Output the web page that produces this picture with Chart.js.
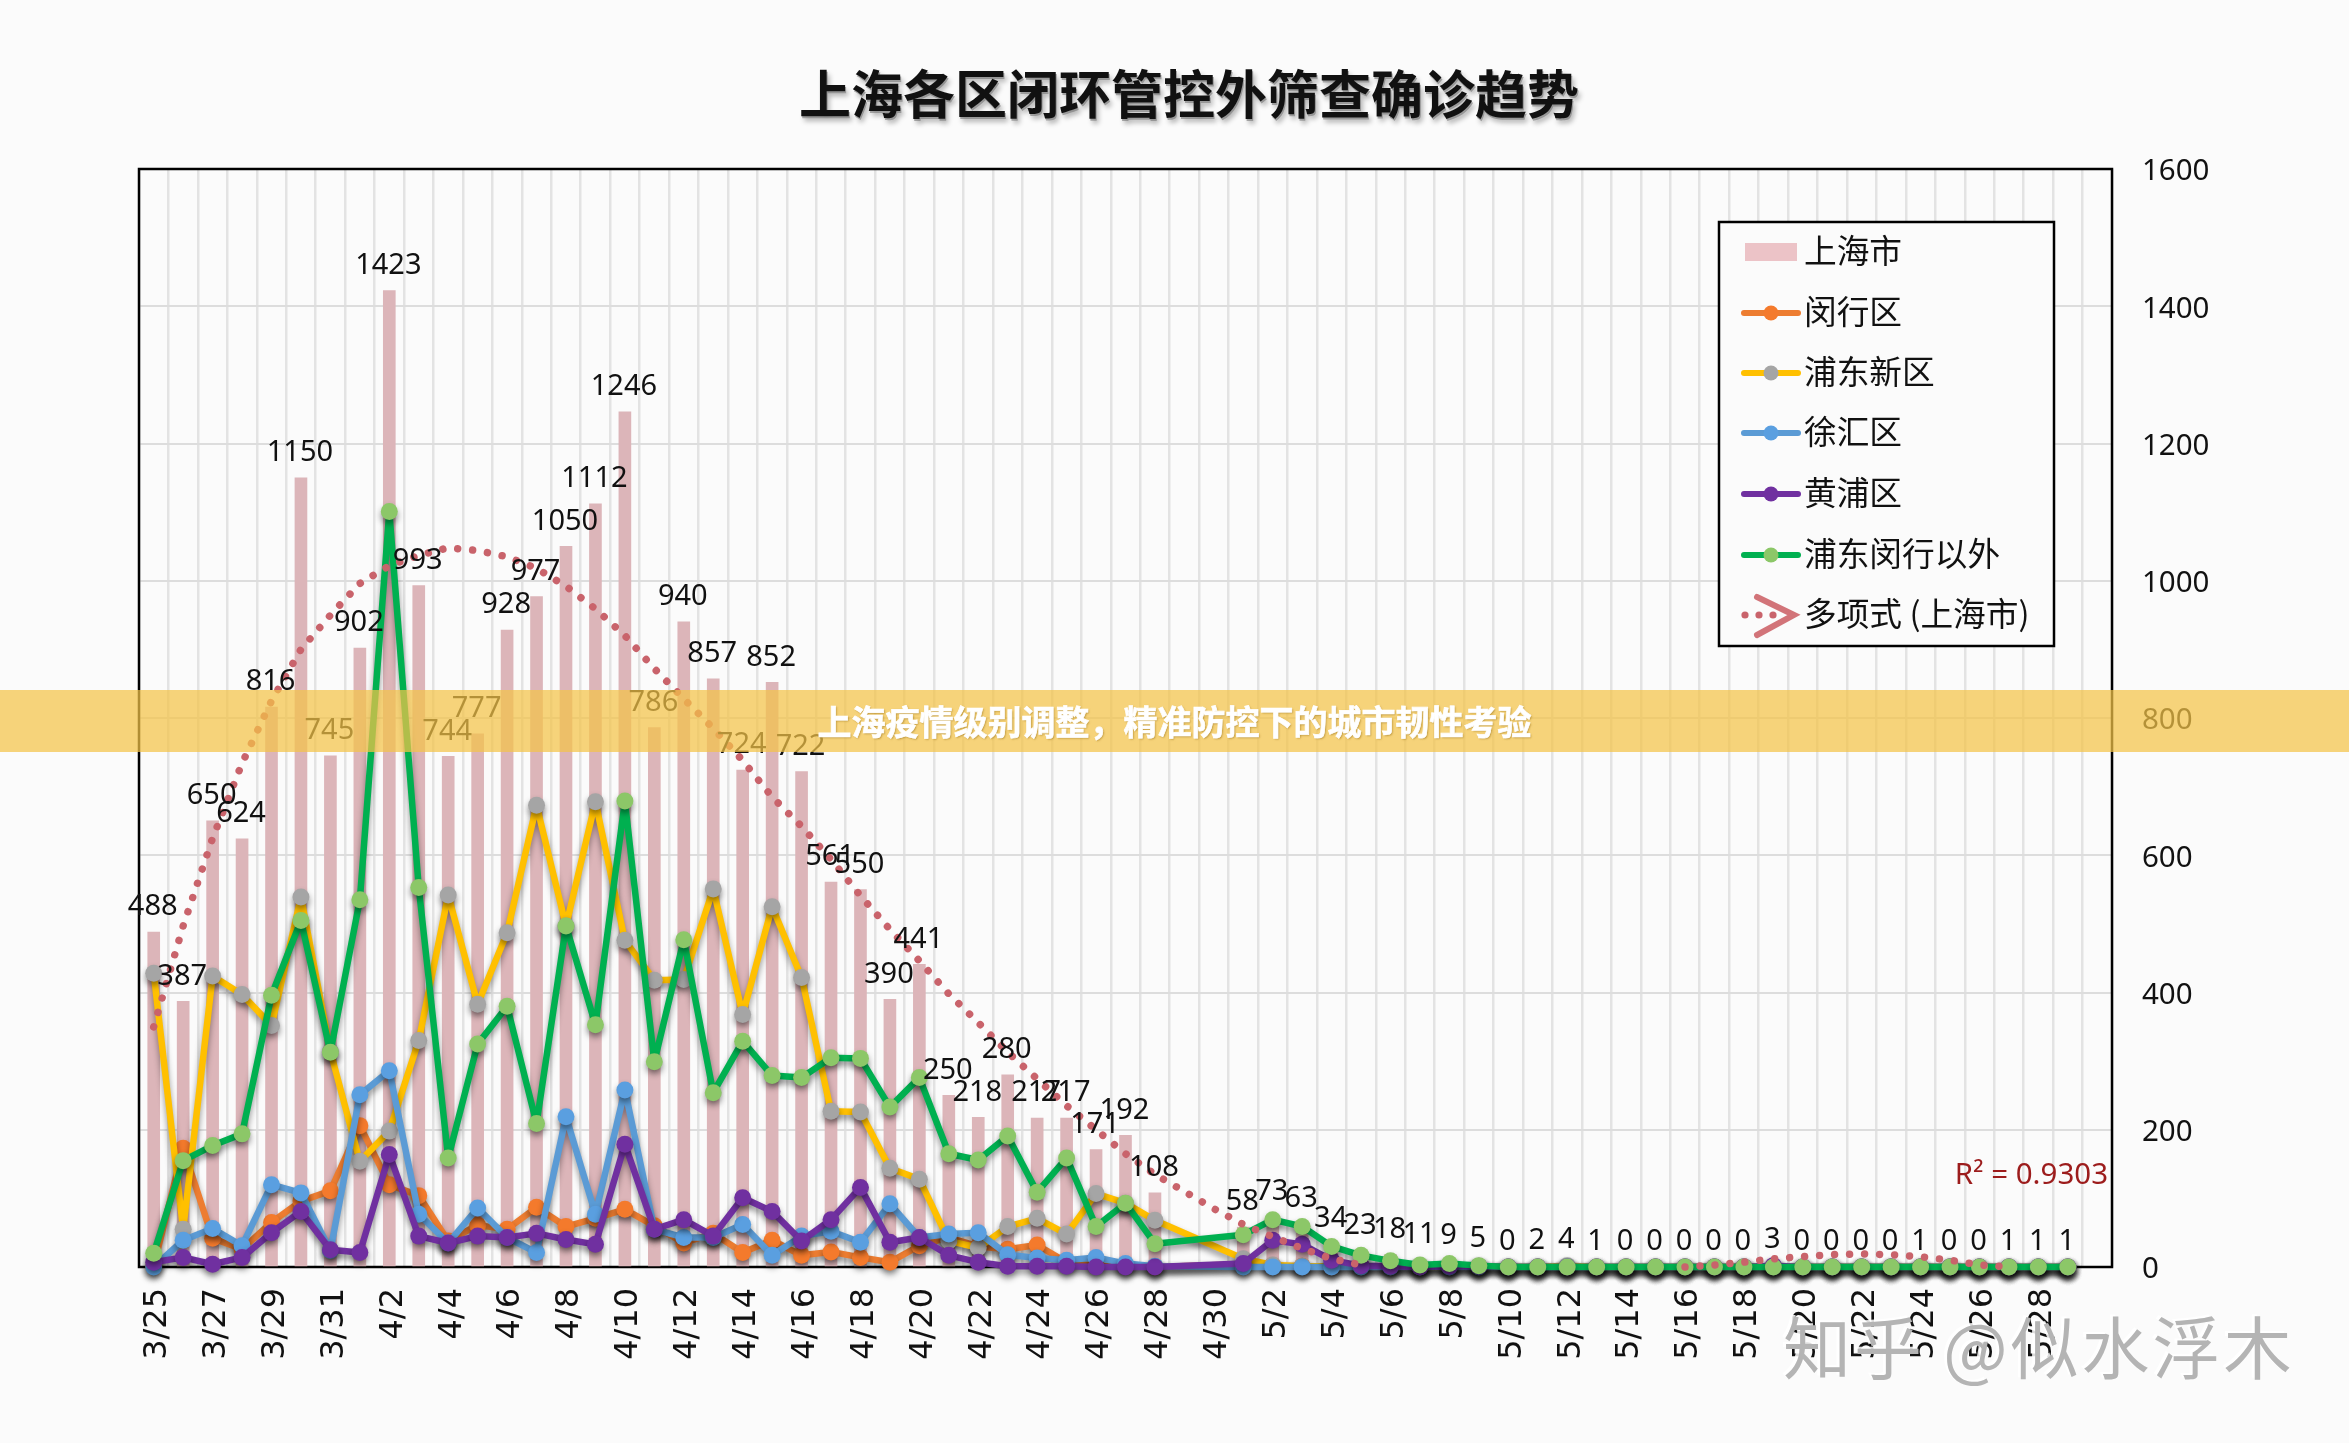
<!DOCTYPE html>
<html><head><meta charset="utf-8">
<script src="https://cdn.jsdelivr.net/npm/chart.js@4"></script>
<style>
html,body{margin:0;padding:0;background:#fbfbfb;width:2349px;height:1443px;overflow:hidden}
canvas{position:absolute;left:0;top:0}
#band{position:absolute;left:0;top:690px;width:2349px;height:62px;background:rgba(244,196,72,.72);color:#fff;font:bold 34px/62px "Noto Sans CJK SC";text-align:center;-webkit-text-stroke:.7px #fff;text-shadow:1px 1px 2px rgba(150,110,20,.6)}
#mark{position:absolute;left:1783px;top:1300px;color:#b4b4b4;font:68px/90px "Noto Sans CJK SC";letter-spacing:3px;white-space:nowrap;text-shadow:-3px -2px 0 rgba(255,255,255,.85)}
</style></head><body>
<canvas id="c" width="2349" height="1443"></canvas>
<div id="band">上海疫情级别调整，精准防控下的城市韧性考验</div>
<div id="mark">知乎 @似水浮木</div>
<script>
const titleText='上海各区闭环管控外筛查确诊趋势';
const categories=['3/25','3/26','3/27','3/28','3/29','3/30','3/31','4/1','4/2','4/3','4/4','4/5','4/6','4/7','4/8','4/9','4/10','4/11','4/12','4/13','4/14','4/15','4/16','4/17','4/18','4/19','4/20','4/21','4/22','4/23','4/24','4/25','4/26','4/27','4/28','4/29','4/30','5/1','5/2','5/3','5/4','5/5','5/6','5/7','5/8','5/9','5/10','5/11','5/12','5/13','5/14','5/15','5/16','5/17','5/18','5/19','5/20','5/21','5/22','5/23','5/24','5/25','5/26','5/27','5/28','5/29',''];
const shanghai=[488,387,650,624,816,1150,745,902,1423,993,744,777,928,977,1050,1112,1246,786,940,857,724,852,722,561,550,390,441,250,218,280,217,217,171,192,108,null,null,58,73,63,34,23,18,11,9,5,0,2,4,1,0,0,0,0,0,3,0,0,0,0,1,0,0,1,1,1,null];
const minhang=[2,173,42,26,65,96,111,206,120,104,38,61,55,87,59,71,84,60,35,49,21,39,17,22,14,7,31,43,30,26,32,7,2,1,0,null,null,4,2,1,0,1,0,0,0,0,0,0,0,0,0,0,0,0,0,0,0,0,0,0,0,0,0,0,0,0,null];
const pudong=[428,55,424,397,352,539,314,154,198,330,542,383,487,673,497,678,476,418,419,551,368,525,422,227,226,144,128,38,28,59,71,48,107,93,68,null,null,12,3,1,1,1,1,0,0,1,0,0,2,0,0,0,0,0,0,1,0,0,0,0,0,0,0,0,0,0,null];
const xuhui=[0,39,56,31,120,108,24,251,286,77,35,86,43,21,219,77,258,55,43,43,62,17,45,52,36,92,43,48,50,18,13,10,14,5,1,null,null,0,0,0,0,0,0,0,0,0,0,0,0,0,0,0,0,0,0,0,0,0,0,0,0,0,0,0,0,0,null];
const huangpu=[7,14,4,14,50,81,25,21,164,45,35,45,43,49,40,33,179,55,69,45,101,81,38,69,116,36,43,17,7,1,1,1,0,0,0,null,null,5,39,33,10,2,1,0,1,1,0,0,0,0,0,0,0,0,0,2,0,0,0,0,0,0,0,0,0,0,null];
const others=[20,155,177,194,396,505,313,535,1101,553,159,325,380,209,497,353,679,299,477,254,329,279,276,305,304,233,276,165,156,191,109,159,59,93,34,null,null,47,69,59,30,17,9,3,5,2,0,0,0,0,0,0,0,0,0,0,0,0,0,0,0,0,0,0,0,0,null];
const trend=[350,497,625,734,825,900,950,996,1022,1037,1048,1044,1035,1018,992,959,920,872,828,785,738,685,642,594,541,492,446,398,356,313,274,235,200,165,135,110,85,62,44,27,12,3,null,null,null,null,null,null,null,null,null,null,0,3,7,12,15,18,19,18,15,10,3,0,null,null,null];
const yTicks=[0,200,400,600,800,1000,1200,1400,1600];
const r2Text='R² = 0.9303';

const black='#000';
const lineSet=(label,data,line,point,order)=>({type:'line',label,data,borderColor:line,backgroundColor:point,pointBackgroundColor:point,pointBorderColor:point,pointBorderWidth:0,borderWidth:6.5,pointRadius:8.5,pointHoverRadius:8.5,tension:0,spanGaps:true,clip:false,order,borderJoinStyle:'round',borderCapStyle:'round'});

const decor={
 id:'decor',
 beforeDraw(ch){
  const c=ch.ctx;c.save();
  c.font='bold 52px "Noto Sans CJK SC"';c.textAlign='center';c.textBaseline='middle';
  c.fillStyle='rgba(110,110,110,.55)';c.shadowColor='rgba(0,0,0,.5)';c.shadowBlur=5;c.shadowOffsetX=2;c.shadowOffsetY=3;
  c.fillText(titleText,ch.titleBlock.left+ch.titleBlock.width/2+1,ch.titleBlock.top+63+31+2);
  c.restore();
 },
 beforeDatasetsDraw(ch){
  const a=ch.chartArea,c=ch.ctx;
  c.save();c.strokeStyle=black;c.lineWidth=2.5;c.strokeRect(a.left,a.top,a.right-a.left,a.bottom-a.top);c.restore();
 },
 beforeDatasetDraw(ch,args){
  const c=ch.ctx;c.save();
  const d=ch.data.datasets[args.index];
  if(d.type==='line'&&!d.isTrend){c.shadowColor='rgba(0,0,0,.42)';c.shadowBlur=6;c.shadowOffsetY=4;}
 },
 afterDatasetDraw(ch){ch.ctx.restore();},
 afterDatasetsDraw(ch){
  const c=ch.ctx,a=ch.chartArea;
  c.save();
  const m=ch.getDatasetMeta(0);
  c.font='29px "Noto Sans"';c.fillStyle='#111';c.textAlign='center';c.textBaseline='middle';
  m.data.forEach((el,i)=>{const v=shanghai[i];if(v==null)return;c.fillText(String(v),el.x-1,el.y-25);});
  c.font='29.5px "Noto Sans"';c.fillStyle='#9c1c1c';c.textAlign='right';
  c.fillText(r2Text,a.right-4,ch.scales.y.getPixelForValue(133));
  const bx=1719,by=222,bw=335,bh=424;
  c.fillStyle='#fbfbfb';c.fillRect(bx,by,bw,bh);
  c.strokeStyle=black;c.lineWidth=2.5;c.strokeRect(bx,by,bw,bh);
  const rows=[252,313,373,433,494,555,615];
  ch.data.datasets.forEach((d,r)=>{
   const y=rows[r];
   c.lineCap='round';
   if(r===0){c.fillStyle='#ecc3c7';c.fillRect(1745,y-9,52,18);}
   else if(d.isTrend){
    c.fillStyle=d.borderColor;
    [1745,1759,1773].forEach(x=>{c.beginPath();c.arc(x,y,3.6,0,7);c.fill();});
    c.strokeStyle='#d27479';c.lineWidth=6;c.beginPath();c.moveTo(1757,y-18);c.lineTo(1794,y);c.lineTo(1757,y+20);c.stroke();
   }else{
    c.strokeStyle=d.borderColor;c.lineWidth=6;c.beginPath();c.moveTo(1744,y);c.lineTo(1798,y);c.stroke();
    c.fillStyle=d.pointBackgroundColor;c.beginPath();c.arc(1771,y,7.5,0,7);c.fill();
   }
   c.fillStyle='#111';c.textAlign='left';c.textBaseline='middle';c.font='32.7px "Noto Sans CJK SC"';
   c.fillText(d.label,1804,y-1.5);
  });
  c.restore();
 }
};

new Chart(document.getElementById('c'),{
 type:'bar',
 data:{labels:categories,datasets:[
  {type:'bar',label:'上海市',data:shanghai,backgroundColor:'#dcb5b9',barThickness:12,order:7},
  lineSet('闵行区',minhang,'#ed7d31','#f47a2c',6),
  lineSet('浦东新区',pudong,'#ffc000','#a5a5a5',5),
  lineSet('徐汇区',xuhui,'#5b9bd5','#5a9fe0',4),
  lineSet('黄浦区',huangpu,'#7030a0','#7030a0',3),
  lineSet('浦东闵行以外',others,'#00b050','#8cc768',2),
  {type:'line',isTrend:true,label:'多项式 (上海市)',data:trend,borderColor:'#c9636b',borderWidth:7.5,borderDash:[0.01,15],borderCapStyle:'round',pointRadius:0,tension:0,spanGaps:false,clip:false,order:1}
 ]},
 options:{
  responsive:false,animation:false,devicePixelRatio:1,
  layout:{autoPadding:false,padding:{left:139,right:110,top:0,bottom:0}},
  plugins:{
   legend:{display:false},tooltip:{enabled:false},
   title:{display:true,text:titleText,color:'#111',font:{family:'"Noto Sans CJK SC"',size:52,weight:'bold',lineHeight:1.2},padding:{top:63,bottom:43.6}}
  },
  scales:{
   x:{
    offset:true,
    grid:{color:'#e3e3e3',lineWidth:2.5,offset:true,drawTicks:false},
    border:{display:false},
    afterFit(s){s.height=176;},
    ticks:{autoSkip:false,minRotation:90,maxRotation:90,padding:21,labelOffset:4,color:'#111',font:{family:'"DejaVu Sans"',size:32},
     callback(v,i){return i%2===0?this.getLabelForValue(v):'';}}
   },
   y:{
    position:'right',min:0,max:1600,
    afterBuildTicks(s){s.ticks=yTicks.map(v=>({value:v}));},
    afterFit(s){s.width=127;},
    grid:{color:'#dddddd',lineWidth:2,drawTicks:false},
    border:{display:false},
    ticks:{padding:30,labelOffset:3,color:'#111',font:{family:'"Noto Sans"',size:29.5},callback(v){return String(v);}}
   }
  }
 },
 plugins:[decor]
});
</script>
</body></html>
